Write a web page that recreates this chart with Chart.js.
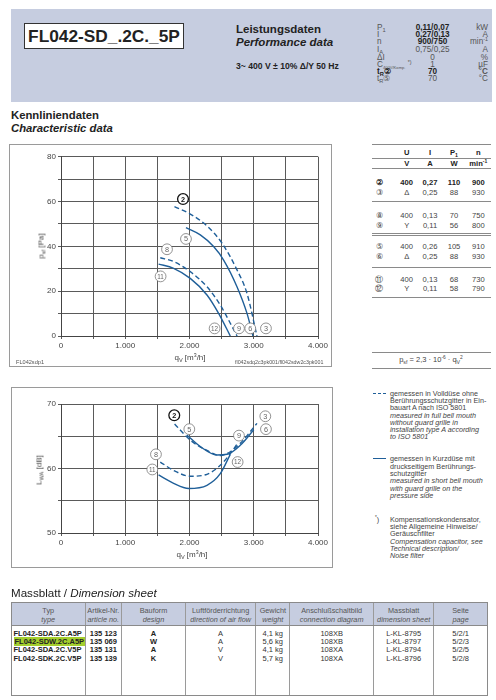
<!DOCTYPE html>
<html>
<head>
<meta charset="utf-8">
<script src="https://cdn.jsdelivr.net/npm/chart.js@4.4.1/dist/chart.umd.min.js"></script>
<style>
body { margin:0; width:496px; height:700px; position:relative; overflow:hidden; background:#fff;
       font-family:"Liberation Sans", Arial, sans-serif; color:#222; }
.a { position:absolute; white-space:nowrap; }
sub { font-size:70%; vertical-align:-2px; line-height:0; }
sup { font-size:65%; vertical-align:3px; line-height:0; }
.band { left:11px; top:9px; width:481px; height:93px; background:#c6cde0; }
.title { left:24px; top:23px; width:158px; height:24px; background:#fff; border:1.5px solid #333;
         font-weight:bold; font-size:17.3px; line-height:25px; text-align:center; color:#222; }
.hr { height:8px; line-height:8px; font-size:8.2px; }
.hl { left:377px; color:#555; }
.hv { left:402px; width:61px; text-align:center; color:#555; }
.hu { left:448px; width:40px; text-align:right; color:#555; }
.b { font-weight:bold; color:#222 !important; }
.line { left:371.5px; width:119px; height:0; border-top:1px solid #8a8a8a; }
.tr { left:371px; width:120px; height:8px; line-height:8px; font-size:7.6px; color:#444; }
.tr span { position:absolute; width:30px; margin-left:-15px; text-align:center; }
.frame { border:1px solid #9a9a9a; box-sizing:border-box; }
.ax { font-size:8px; color:#444; transform:translate(-50%,-50%); }
.axy { font-size:8px; color:#444; transform:translate(-50%,-50%) rotate(-90deg); }
.lg { left:390px; font-size:7.2px; line-height:7.3px; color:#444; }
#dim { position:absolute; left:11px; top:602px; width:477px; height:94px; border:1px solid #8a8a8a; box-sizing:border-box; }
#dim table { border-collapse:collapse; width:100%; height:100%; table-layout:fixed; }
#dim td { border-left:1px solid #9a9a9a; padding:0; text-align:center; vertical-align:top; white-space:nowrap; overflow:visible; }
#dim td:first-child { border-left:none; }
#dim tr.hd td { background:#c6cde0; height:19px; padding-top:3px; line-height:9.3px; font-size:7.3px; color:#555; border-bottom:1px solid #8a8a8a; }
#dim tr.bd td { line-height:8.4px; padding-top:3.5px; font-size:7.5px; color:#333; }
#dim td.l { text-align:left; padding-left:1.5px; }
.mark { background:#a4cf2e; padding:0 1px; }
</style>
</head>
<body>

<div class="a band"></div>
<div class="a title">FL042-SD_.2C._5P</div>
<div class="a" style="left:236px;top:23px;font-size:11.5px;font-weight:bold;color:#222">Leistungsdaten</div>
<div class="a" style="left:236px;top:36px;font-size:11.5px;font-weight:bold;font-style:italic;color:#222">Performance data</div>
<div class="a" style="left:236px;top:61px;font-size:8.6px;font-weight:bold;color:#222">3~ 400 V ± 10% Δ/Y 50 Hz</div>

<div class="a hr hl" style="top:23.7px">P<sub>1</sub></div>
<div class="a hr hv b" style="top:23.7px">0,11/0,07</div>
<div class="a hr hu" style="top:23.7px">kW</div>
<div class="a hr hl" style="top:31px">I</div>
<div class="a hr hv b" style="top:31px">0,27/0,13</div>
<div class="a hr hu" style="top:31px">A</div>
<div class="a hr hl" style="top:38.3px">n</div>
<div class="a hr hv b" style="top:38.3px">900/750</div>
<div class="a hr hu" style="top:38.3px">min<sup>-1</sup></div>
<div class="a hr hl" style="top:46.3px">I<sub>A</sub></div>
<div class="a hr hv" style="top:46.3px">0,75/0,25</div>
<div class="a hr hu" style="top:46.3px">A</div>
<div class="a hr hl" style="top:53.7px">ΔI</div>
<div class="a hr hv" style="top:53.7px">0</div>
<div class="a hr hu" style="top:53.7px">%</div>
<div class="a hr hl" style="top:61px">C<sub style="font-size:50%">400V/Komp.</sub> <sup>*)</sup></div>
<div class="a hr hv" style="top:61px">1</div>
<div class="a hr hu" style="top:61px">µF</div>
<div class="a hr hl b" style="top:68.3px">t<sub>R</sub>②</div>
<div class="a hr hv b" style="top:68.3px">70</div>
<div class="a hr hu" style="top:68.3px">°<b>C</b></div>
<div class="a hr hl" style="top:75.3px">t<sub>R</sub>⑤</div>
<div class="a hr hv" style="top:75.3px">70</div>
<div class="a hr hu" style="top:75.3px">°C</div>

<div class="a" style="left:11px;top:109px;font-size:11.3px;font-weight:bold;color:#222">Kennliniendaten</div>
<div class="a" style="left:11px;top:122px;font-size:11.3px;font-weight:bold;font-style:italic;color:#222">Characteristic data</div>

<!-- Kennlinie p_sf -->
<div class="a frame" style="left:9px;top:144px;width:323px;height:223px"></div>
<canvas id="chartP" class="a" width="323" height="222" style="left:9px;top:144px"></canvas>
<div class="a axy" style="left:41px;top:246px">p<sub>sf</sub> [Pa]</div>
<div class="a ax" style="left:190px;top:357px">q<sub>V</sub> [m<sup>3</sup>/h]</div>
<div class="a" style="left:16px;top:359px;font-size:5.6px;color:#555">FL042sdp1</div>
<div class="a" style="left:235px;top:359px;font-size:5.3px;color:#555">fl042sdq2c3pk001/fl042sdw2c3pk001</div>

<!-- Kennlinie L_WA -->
<div class="a frame" style="left:11px;top:387px;width:322px;height:181px"></div>
<canvas id="chartL" class="a" width="322" height="181" style="left:11px;top:387px"></canvas>
<div class="a axy" style="left:39px;top:470px">L<sub>WA</sub> [dB]</div>
<div class="a ax" style="left:192px;top:554px">q<sub>V</sub> [m<sup>3</sup>/h]</div>

<!-- Tabelle Betriebspunkte -->
<div class="a line" style="top:144px"></div>
<div class="a tr b" style="top:148.7px"><span style="left:35.7px">U</span><span style="left:59px">I</span><span style="left:83px">P<sub>1</sub></span><span style="left:107.3px">n</span></div>
<div class="a line" style="top:158px"></div>
<div class="a tr b" style="top:159.5px"><span style="left:35.7px">V</span><span style="left:59px">A</span><span style="left:83px">W</span><span style="left:107.3px">min<sup>-1</sup></span></div>
<div class="a line" style="top:168px"></div>
<div class="a tr b" style="top:178.7px"><span style="left:8.3px">②</span><span style="left:35.7px">400</span><span style="left:59px">0,27</span><span style="left:83px">110</span><span style="left:107.3px">900</span></div>
<div class="a tr" style="top:188.7px"><span style="left:8.3px">③</span><span style="left:35.7px">Δ</span><span style="left:59px">0,25</span><span style="left:83px">88</span><span style="left:107.3px">930</span></div>
<div class="a line" style="top:200.5px"></div>
<div class="a tr" style="top:212px"><span style="left:8.3px">⑧</span><span style="left:35.7px">400</span><span style="left:59px">0,13</span><span style="left:83px">70</span><span style="left:107.3px">750</span></div>
<div class="a tr" style="top:222px"><span style="left:8.3px">⑨</span><span style="left:35.7px">Y</span><span style="left:59px">0,11</span><span style="left:83px">56</span><span style="left:107.3px">800</span></div>
<div class="a line" style="top:232.5px"></div>
<div class="a line" style="top:234.5px"></div>
<div class="a tr" style="top:243.3px"><span style="left:8.3px">⑤</span><span style="left:35.7px">400</span><span style="left:59px">0,26</span><span style="left:83px">105</span><span style="left:107.3px">910</span></div>
<div class="a tr" style="top:252.7px"><span style="left:8.3px">⑥</span><span style="left:35.7px">Δ</span><span style="left:59px">0,25</span><span style="left:83px">88</span><span style="left:107.3px">930</span></div>
<div class="a line" style="top:266.5px"></div>
<div class="a tr" style="top:276px"><span style="left:8.3px">⑪</span><span style="left:35.7px">400</span><span style="left:59px">0,13</span><span style="left:83px">68</span><span style="left:107.3px">730</span></div>
<div class="a tr" style="top:285.3px"><span style="left:8.3px">⑫</span><span style="left:35.7px">Y</span><span style="left:59px">0,11</span><span style="left:83px">58</span><span style="left:107.3px">790</span></div>
<div class="a line" style="top:296.5px"></div>
<div class="a line" style="top:352px"></div>
<div class="a" style="left:371px;width:120px;top:356px;font-size:7.5px;line-height:8px;text-align:center;color:#444">p<sub>sf</sub> = 2,3 · 10<sup>-6</sup> · q<sub>V</sub><sup>2</sup></div>
<div class="a line" style="top:368px"></div>

<!-- Legende -->
<div class="a" style="left:373px;top:392.5px;width:13px;height:0;border-top:1.5px dashed #1f5f99"></div>
<div class="a lg" style="top:389.7px">gemessen in Volldüse ohne<br>Berührungsschutzgitter in Ein-<br>bauart A nach ISO 5801<br><i>measured in full bell mouth<br>without guard grille in<br>installation type A according<br>to ISO 5801</i></div>
<div class="a" style="left:373px;top:458px;width:13px;height:0;border-top:1.5px solid #1f5f99"></div>
<div class="a lg" style="top:455.4px">gemessen in Kurzdüse mit<br>druckseitigem Berührungs-<br>schutzgitter<br><i>measured in short bell mouth<br>with guard grille on the<br>pressure side</i></div>
<div class="a lg" style="left:375px;top:515.7px"><sup>*</sup>)</div>
<div class="a lg" style="top:515.7px">Kompensationskondensator,<br>siehe Allgemeine Hinweise/<br>Geräuschfilter<br><i>Compensation capacitor, see<br>Technical description/<br>Noise filter</i></div>

<!-- Massblatt -->
<div class="a" style="left:11px;top:586px;font-size:11.6px;color:#222">Massblatt / <i>Dimension sheet</i></div>
<div id="dim">
<table>
<colgroup><col style="width:73px"><col style="width:36.7px"><col style="width:63.6px"><col style="width:70.7px"><col style="width:33.7px"><col style="width:84px"><col style="width:60px"><col></colgroup>
<tr class="hd"><td>Typ<br><i>type</i></td><td>Artikel-Nr.<br><i>article no.</i></td><td>Bauform<br><i>design</i></td><td>Luftförderrichtung<br><i>direction of air flow</i></td><td>Gewicht<br><i>weight</i></td><td>Anschlußschaltbild<br><i>connection diagram</i></td><td>Massblatt<br><i>dimension sheet</i></td><td>Seite<br><i>page</i></td></tr>
<tr class="bd"><td class="l" style="font-weight:bold;color:#222">FL042-SDA.2C.A5P<br><span class="mark">FL042-SDW.2C.A5P</span><br>FL042-SDA.2C.V5P<br>FL042-SDK.2C.V5P</td><td style="font-weight:bold;color:#222">135 123<br>135 069<br>135 131<br>135 139</td><td style="font-weight:bold;color:#222">A<br>W<br>A<br>K</td><td>A<br>A<br>V<br>V</td><td>4,1 kg<br>5,6 kg<br>4,1 kg<br>5,7 kg</td><td>108XB<br>108XB<br>108XA<br>108XA</td><td>L-KL-8795<br>L-KL-8797<br>L-KL-8794<br>L-KL-8796</td><td>5/2/1<br>5/2/3<br>5/2/5<br>5/2/8</td></tr>
</table>
</div>

<script>
/* global Chart */

const X_TICK_VALUES = [0, 1000, 2000, 3000, 4000];
const X_TICK_LABELS = ['0', '1.000', '2.000', '3.000', '4.000'];
const Y_TICKS_P = [0, 20, 40, 60, 80];
const Y_TICKS_L = [50, 60, 70];

// Druck p_sf [Pa] ueber q_V [m3/h]  (2/8 = Volldüse, 5/11 = Kurzdüse)
const Q_P2  = [1766, 2012, 2272, 2506, 2739, 2895, 3050];
const P_2   = [57.7, 54.4, 49.1, 41.4, 29.5, 19.0, 0];
const Q_P5  = [1945, 2168, 2375, 2531, 2739, 2895, 2988];
const P_5   = [48.3, 45.1, 39.9, 33.9, 22.0, 10.1, 0];
const Q_P8  = [1545, 1753, 2012, 2272, 2479, 2635, 2740];
const P_8   = [34.9, 33.2, 28.7, 22.0, 13.8, 5.7, 0];
const Q_P11 = [1519, 1753, 2012, 2272, 2453, 2635];
const P_11  = [32.1, 30.2, 25.7, 18.3, 10.1, 0];

// Schallleistung L_WA [dB]
const Q_L2  = [1768, 2012, 2272, 2479, 2635, 2790, 3050];
const L_2   = [66.9, 64.4, 62.8, 62.0, 62.6, 63.9, 67.0];
const Q_L5  = [1960, 2168, 2428, 2584, 2790, 3000];
const L_5   = [65.2, 63.4, 62.1, 62.2, 63.6, 66.0];
const Q_L8  = [1545, 1753, 2012, 2272, 2479, 2635, 2740];
const L_8   = [61.0, 59.7, 58.8, 59.1, 60.5, 62.3, 63.8];
const Q_L11 = [1519, 1753, 1987, 2272, 2479, 2635];
const L_11  = [59.0, 57.7, 56.9, 57.4, 59.2, 62.2];

// Betriebspunkt-Nummern [nr, q_V, Wert]
const MARKS_P = [['2', 1899, 61.1], ['5', 1945, 43.3], ['8', 1650, 38.7], ['11', 1550, 26.6],
                 ['12', 2391, 3.4], ['9', 2770, 3.4], ['6', 2946, 3.4], ['3', 3190, 3.4]];
const MARKS_L = [['2', 1763, 68.25], ['5', 1997, 66.1], ['8', 1478, 62.2], ['11', 1421, 59.85],
                 ['9', 2770, 65.1], ['12', 2749, 61.0], ['3', 3180, 68.1], ['6', 3190, 66.1]];

const BLUE = '#1f5f99';
const FONT = '"Liberation Sans", Arial, sans-serif';

const circleMarks = {
    id: 'circleMarks',
    afterDatasetsDraw(chart, args, opts) {
        const { ctx, scales: { x, y } } = chart;
        ctx.save();
        for (const [nr, q, v] of opts.marks) {
            const px = x.getPixelForValue(q);
            const py = y.getPixelForValue(v);
            const bold = nr === '2';
            ctx.beginPath();
            ctx.arc(px, py, 5.4, 0, Math.PI * 2);
            ctx.fillStyle = '#fff';
            ctx.fill();
            ctx.lineWidth = bold ? 1.3 : 0.8;
            ctx.strokeStyle = bold ? '#111' : '#777';
            ctx.stroke();
            ctx.fillStyle = bold ? '#111' : '#666';
            ctx.font = (bold ? 'bold ' : '') + (nr.length > 1 ? '6.3px ' : '7.3px ') + FONT;
            ctx.textAlign = 'center';
            ctx.textBaseline = 'middle';
            ctx.fillText(nr, px, py + 0.5);
        }
        ctx.restore();
    }
};

function curve(qs, vs, dashed) {
    return {
        data: qs.map((q, i) => ({ x: q, y: vs[i] })),
        borderColor: BLUE,
        borderWidth: 1.4,
        borderDash: dashed ? [5, 3] : [],
        pointRadius: 0,
        cubicInterpolationMode: 'monotone',
        fill: false
    };
}

function makeChart(id, datasets, marks, y, box) {
    const grid = { color: '#5a5a5a', lineWidth: 1, tickLength: 3 };
    const ticks = { color: '#444', font: { family: FONT, size: 8 }, padding: 2 };
    return new Chart(document.getElementById(id), {
        type: 'line',
        data: { datasets },
        plugins: [circleMarks],
        options: {
            responsive: false,
            animation: false,
            devicePixelRatio: 1,
            layout: { padding: { left: 0, right: box.right, top: box.top, bottom: 0 } },
            scales: {
                x: {
                    type: 'linear', min: 0, max: 4000,
                    grid, border: { color: '#444' },
                    ticks: {
                        ...ticks, stepSize: 500, autoSkip: false, maxRotation: 0,
                        callback: v => {
                            const i = X_TICK_VALUES.indexOf(v);
                            return i >= 0 ? X_TICK_LABELS[i] : '';
                        }
                    },
                    afterFit: s => { s.height = box.xh; }
                },
                y: {
                    min: y.min, max: y.max,
                    grid, border: { color: '#444' },
                    ticks: {
                        ...ticks, stepSize: y.step, autoSkip: false,
                        callback: v => y.labels.includes(v) ? String(v) : ''
                    },
                    afterFit: s => { s.width = box.yw; }
                }
            },
            plugins: {
                legend: { display: false },
                tooltip: { enabled: false },
                circleMarks: { marks }
            }
        }
    });
}

makeChart('chartP', [
    curve(Q_P2, P_2, true),
    curve(Q_P5, P_5, false),
    curve(Q_P8, P_8, true),
    curve(Q_P11, P_11, false)
], MARKS_P, { min: 0, max: 80, step: 10, labels: Y_TICKS_P }, { yw: 52, xh: 30, right: 14, top: 12.7 });

makeChart('chartL', [
    curve(Q_L2, L_2, true),
    curve(Q_L5, L_5, false),
    curve(Q_L8, L_8, true),
    curve(Q_L11, L_11, false)
], MARKS_L, { min: 50, max: 70, step: 5, labels: Y_TICKS_L }, { yw: 50, xh: 35, right: 15, top: 17 });
</script>
</body>
</html>
